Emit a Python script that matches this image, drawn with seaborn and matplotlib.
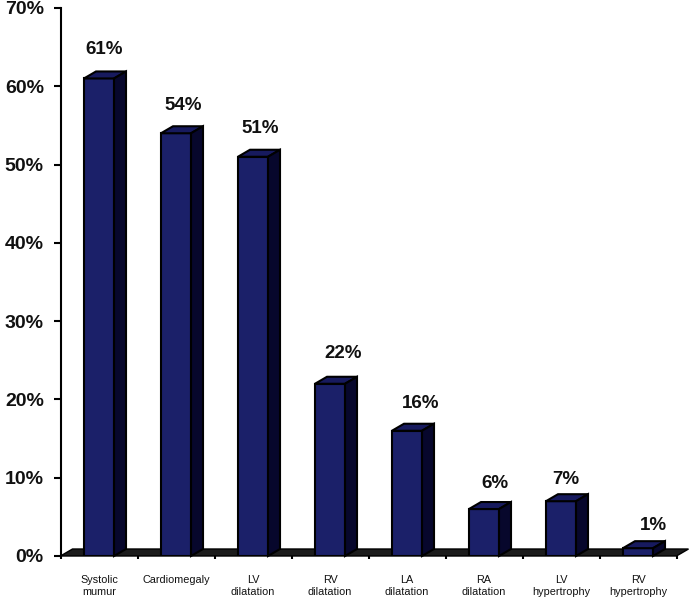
import seaborn as sns
import matplotlib.pyplot as plt
from matplotlib.patches import Polygon

categories = ['Systolic\nmumur', 'Cardiomegaly', 'LV\ndilatation', 'RV\ndilatation',
              'LA\ndilatation', 'RA\ndilatation', 'LV\nhypertrophy', 'RV\nhypertrophy']
values = [61, 54, 51, 22, 16, 6, 7, 1]
ticks = [0, 10, 20, 30, 40, 50, 60, 70]

FRONT = '#1b2069'
TOP = '#171a5e'
SIDE = '#07072c'
FLOOR = '#1c1c1c'

# offsets of the value labels from the bar centre, pixels
label_dx = [5, 7, 7, 13, 14, 11, 5, 15]
label_dy = [29, 28, 28, 30, 27, 26, 22, 23]

sns.set_theme(style='white')
plt.rcParams['font.family'] = ['Liberation Sans', 'DejaVu Sans']

fig = plt.figure(figsize=(6.92, 6), dpi=100)
ax = fig.add_axes([60.5 / 692, 1 - 556 / 600, 616 / 692, 548 / 600])

sns.barplot(x=categories, y=values, color=FRONT, saturation=1, width=0.39, ax=ax, zorder=3)

ax.set_xlim(-0.5, 7.5)
ax.set_ylim(0, 70)

# pseudo 3d depth in data units
dx = 12 / 77
dy = 7 / (548 / 70)

# floor
floor = Polygon([(-0.5, 0), (-0.5 + dx, dy), (7.5 + dx, dy), (7.5, 0)], closed=True,
                facecolor=FLOOR, edgecolor='black', lw=1, clip_on=False, zorder=1)
ax.add_patch(floor)

for i, p in enumerate(ax.patches[:len(values)]):
    x0 = p.get_x()
    x1 = x0 + p.get_width()
    h = p.get_height()
    p.set_edgecolor('black')
    p.set_linewidth(1.5)
    top = Polygon([(x0, h), (x0 + dx, h + dy), (x1 + dx, h + dy), (x1, h)], closed=True,
                  facecolor=TOP, edgecolor='black', lw=1.5, clip_on=False, zorder=3)
    side = Polygon([(x1, 0), (x1 + dx, dy), (x1 + dx, h + dy), (x1, h)], closed=True,
                   facecolor=SIDE, edgecolor='black', lw=1.5, clip_on=False, zorder=3)
    ax.add_patch(top)
    ax.add_patch(side)
    ax.annotate('%d%%' % values[i], (x0 + p.get_width() / 2, h),
                xytext=(label_dx[i] * 0.72, label_dy[i] * 0.72), textcoords='offset points',
                ha='center', va='center', fontsize=13.5, fontweight='bold', color='#111111')

sns.despine(ax=ax, bottom=False, left=False)
ax.spines['left'].set_linewidth(1.5)
ax.spines['left'].set_color('black')
ax.spines['bottom'].set_visible(False)

ax.set_yticks(ticks)
ax.set_yticklabels(['%d%%' % t for t in ticks], fontsize=14, fontweight='bold', color='#111111')
ax.tick_params(axis='y', left=True, length=5, width=1.5, color='black', pad=7)

ax.set_xticks(range(len(categories)))
ax.set_xticklabels(categories, fontsize=7.8, color='#111111', linespacing=1.15, va='top')
ax.tick_params(axis='x', bottom=False, pad=8)
ax.set_xlabel('')
ax.set_ylabel('')

# category boundary tick marks
ax.set_xticks([i - 0.5 for i in range(len(categories) + 1)], minor=True)
ax.tick_params(axis='x', which='minor', bottom=True, length=2, width=1.5, color='black')

plt.savefig('out.png', dpi=100)
